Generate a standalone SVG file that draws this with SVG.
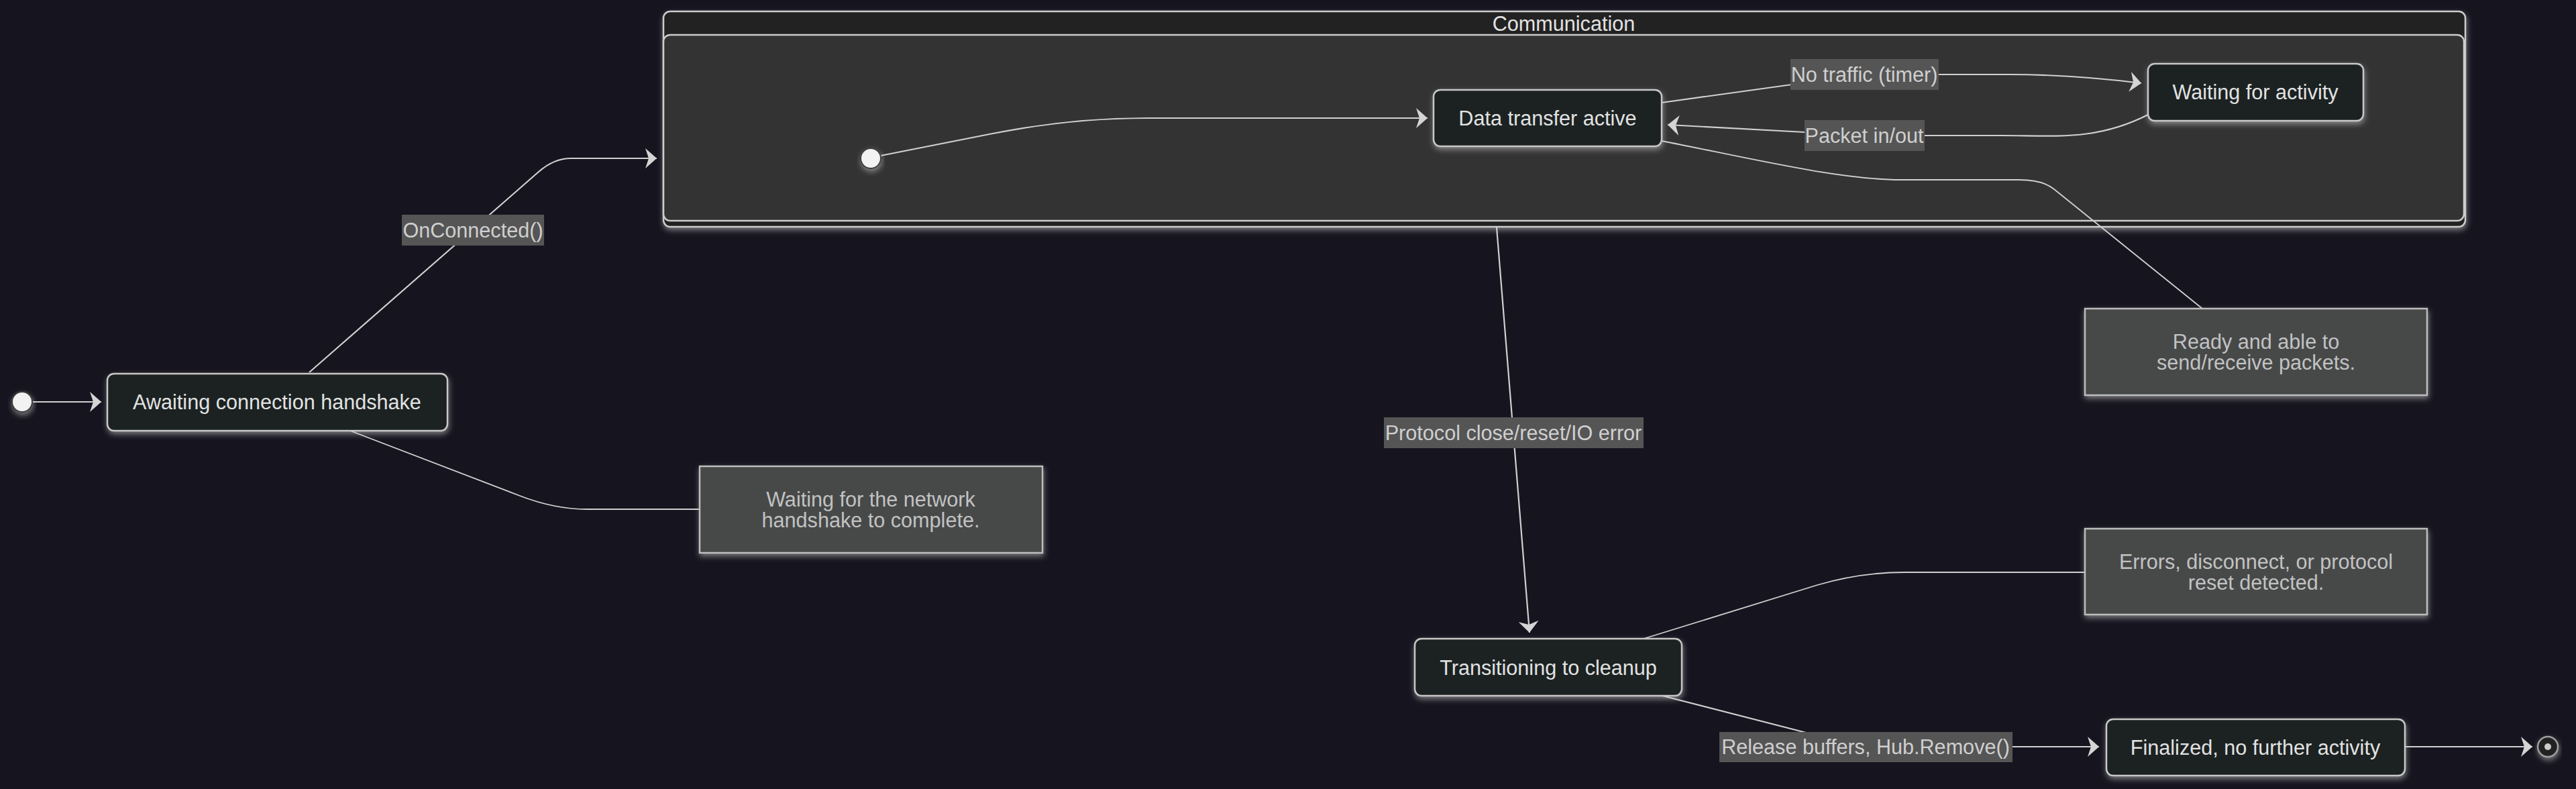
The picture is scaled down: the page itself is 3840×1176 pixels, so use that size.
<svg xmlns="http://www.w3.org/2000/svg" width="3840" height="1176" viewBox="0 0 3840 1176">
<defs>
<filter id="glow" x="-20%" y="-30%" width="140%" height="170%">
<feDropShadow dx="1" dy="4" stdDeviation="4" flood-color="#c8c8c8" flood-opacity="0.55"/>
</filter>
<marker id="arrow" viewBox="0 0 17 30" refX="17" refY="15" markerWidth="17" markerHeight="30" markerUnits="userSpaceOnUse" orient="auto">
<path d="M0,0 L17,15 L0,30 L5,15 Z" fill="#d4d4d4"/>
</marker>
<style>
.t{font-family:"Liberation Sans",Arial,sans-serif;font-size:30.6px;text-anchor:middle;dominant-baseline:central}
.state{fill:#1f2120;stroke:#c8c8c8;stroke-width:2.5;filter:url(#glow)}
.note{fill:#474848;stroke:#bdbdbd;stroke-width:2.5;filter:url(#glow)}
.st{fill:#e2e2e2}
.nt{fill:#c2c2c2}
.lt{fill:#cfcfcf}
.lbl{fill:#555555}
.edge{fill:none;stroke:#d0d0d0;stroke-width:2.2}
.nedge{fill:none;stroke:#d0d0d0;stroke-width:1.8}
</style>
</defs>
<rect x="0" y="0" width="3840" height="1176" fill="#16151f"/>

<g id="Communication">
<rect x="989" y="17" width="2686" height="321" rx="10" fill="#202221" stroke="#cccccc" stroke-width="2.5" filter="url(#glow)"/>
<rect x="989" y="52" width="2684" height="277" rx="10" fill="#333333" stroke="#cccccc" stroke-width="2.5"/>
<text class="t st" x="2331" y="35">Communication</text>
</g>

<g id="connectors">
<path class="edge" d="M48,599 L151,599" marker-end="url(#arrow)"/>
<path class="edge" d="M461,555 L803,256 Q826,236 851,236 L979,236" marker-end="url(#arrow)"/>
<path class="edge" d="M1313,232 L1480,199 Q1596,176 1710,176 L2128,176" marker-end="url(#arrow)"/>
<path class="edge" d="M2477,153 L2700,122 Q2779,111 2820,111 L2995,111 C3060,111 3120,115 3192,124" marker-end="url(#arrow)"/>
<path class="edge" d="M3202,171 C3125,210 3065,202 2985,202 L2790,202 C2750,202 2720,199 2690,197 L2486,186" marker-end="url(#arrow)"/>
<path class="nedge" d="M2477,210 C2600,234 2740,268 2834,268 L3010,268 Q3045,268 3062,282 L3283,460"/>
<path class="nedge" d="M522,642 L775,739 Q827,759 875,759 L1043,759"/>
<path class="edge" d="M2231,339 L2280,943" marker-end="url(#arrow)"/>
<path class="nedge" d="M3108,853 L2840,853 Q2773,853 2709,872 L2450,952"/>
<path class="edge" d="M2478,1037 L2700,1094 Q2775,1113 2850,1113 L3129,1113" marker-end="url(#arrow)"/>
<path class="edge" d="M3585,1113 L3775,1113" marker-end="url(#arrow)"/>

<g id="label-onconnected">
<rect class="lbl" x="599" y="320" width="212" height="46"/>
<text class="t lt" x="705" y="343">OnConnected()</text>
</g>
<g id="label-notraffic">
<rect class="lbl" x="2669" y="88" width="221" height="46"/>
<text class="t lt" x="2779" y="111">No traffic (timer)</text>
</g>
<g id="label-packet">
<rect class="lbl" x="2690" y="179" width="179" height="46"/>
<text class="t lt" x="2779" y="202">Packet in/out</text>
</g>
<g id="label-protocol">
<rect class="lbl" x="2063" y="622" width="387" height="46"/>
<text class="t lt" x="2256" y="645">Protocol close/reset/IO error</text>
</g>
<g id="label-release">
<rect class="lbl" x="2563" y="1091" width="437" height="45"/>
<text class="t lt" x="2781" y="1113">Release buffers, Hub.Remove()</text>
</g>
</g>

<g id="start">
<circle cx="33" cy="599" r="15" fill="#f2f2f2" stroke="#3a3a3a" stroke-width="2" filter="url(#glow)"/>
</g>
<g id="Awaiting">
<rect class="state" x="160" y="557" width="507" height="85" rx="10"/>
<text class="t st" x="413" y="599">Awaiting connection handshake</text>
</g>
<g id="note-awaiting">
<rect class="note" x="1043" y="695" width="511" height="129"/>
<text class="t nt" x="1298" y="744">Waiting for the network</text>
<text class="t nt" x="1298" y="775">handshake to complete.</text>
</g>
<g id="comm-start">
<circle cx="1298" cy="236" r="15" fill="#f2f2f2" stroke="#3a3a3a" stroke-width="2" filter="url(#glow)"/>
</g>
<g id="DataTransferActive">
<rect class="state" x="2137" y="134" width="340" height="84" rx="10"/>
<text class="t st" x="2307" y="176">Data transfer active</text>
</g>
<g id="WaitingForActivity">
<rect class="state" x="3202" y="95" width="321" height="85" rx="10"/>
<text class="t st" x="3362" y="137">Waiting for activity</text>
</g>
<g id="note-ready">
<rect class="note" x="3108" y="460" width="510" height="129"/>
<text class="t nt" x="3363" y="509">Ready and able to</text>
<text class="t nt" x="3363" y="540">send/receive packets.</text>
</g>
<g id="note-errors">
<rect class="note" x="3108" y="788" width="510" height="128"/>
<text class="t nt" x="3363" y="837">Errors, disconnect, or protocol</text>
<text class="t nt" x="3363" y="868">reset detected.</text>
</g>
<g id="Transitioning">
<rect class="state" x="2109" y="952" width="398" height="85" rx="10"/>
<text class="t st" x="2308" y="995">Transitioning to cleanup</text>
</g>
<g id="Finalized">
<rect class="state" x="3140" y="1072" width="445" height="84" rx="10"/>
<text class="t st" x="3362" y="1114">Finalized, no further activity</text>
</g>
<g id="end">
<circle cx="3798" cy="1113" r="15" fill="#222222" stroke="#a0a0a0" stroke-width="2.5" filter="url(#glow)"/>
<circle cx="3798" cy="1113" r="5" fill="#cccccc"/>
</g>
</svg>
